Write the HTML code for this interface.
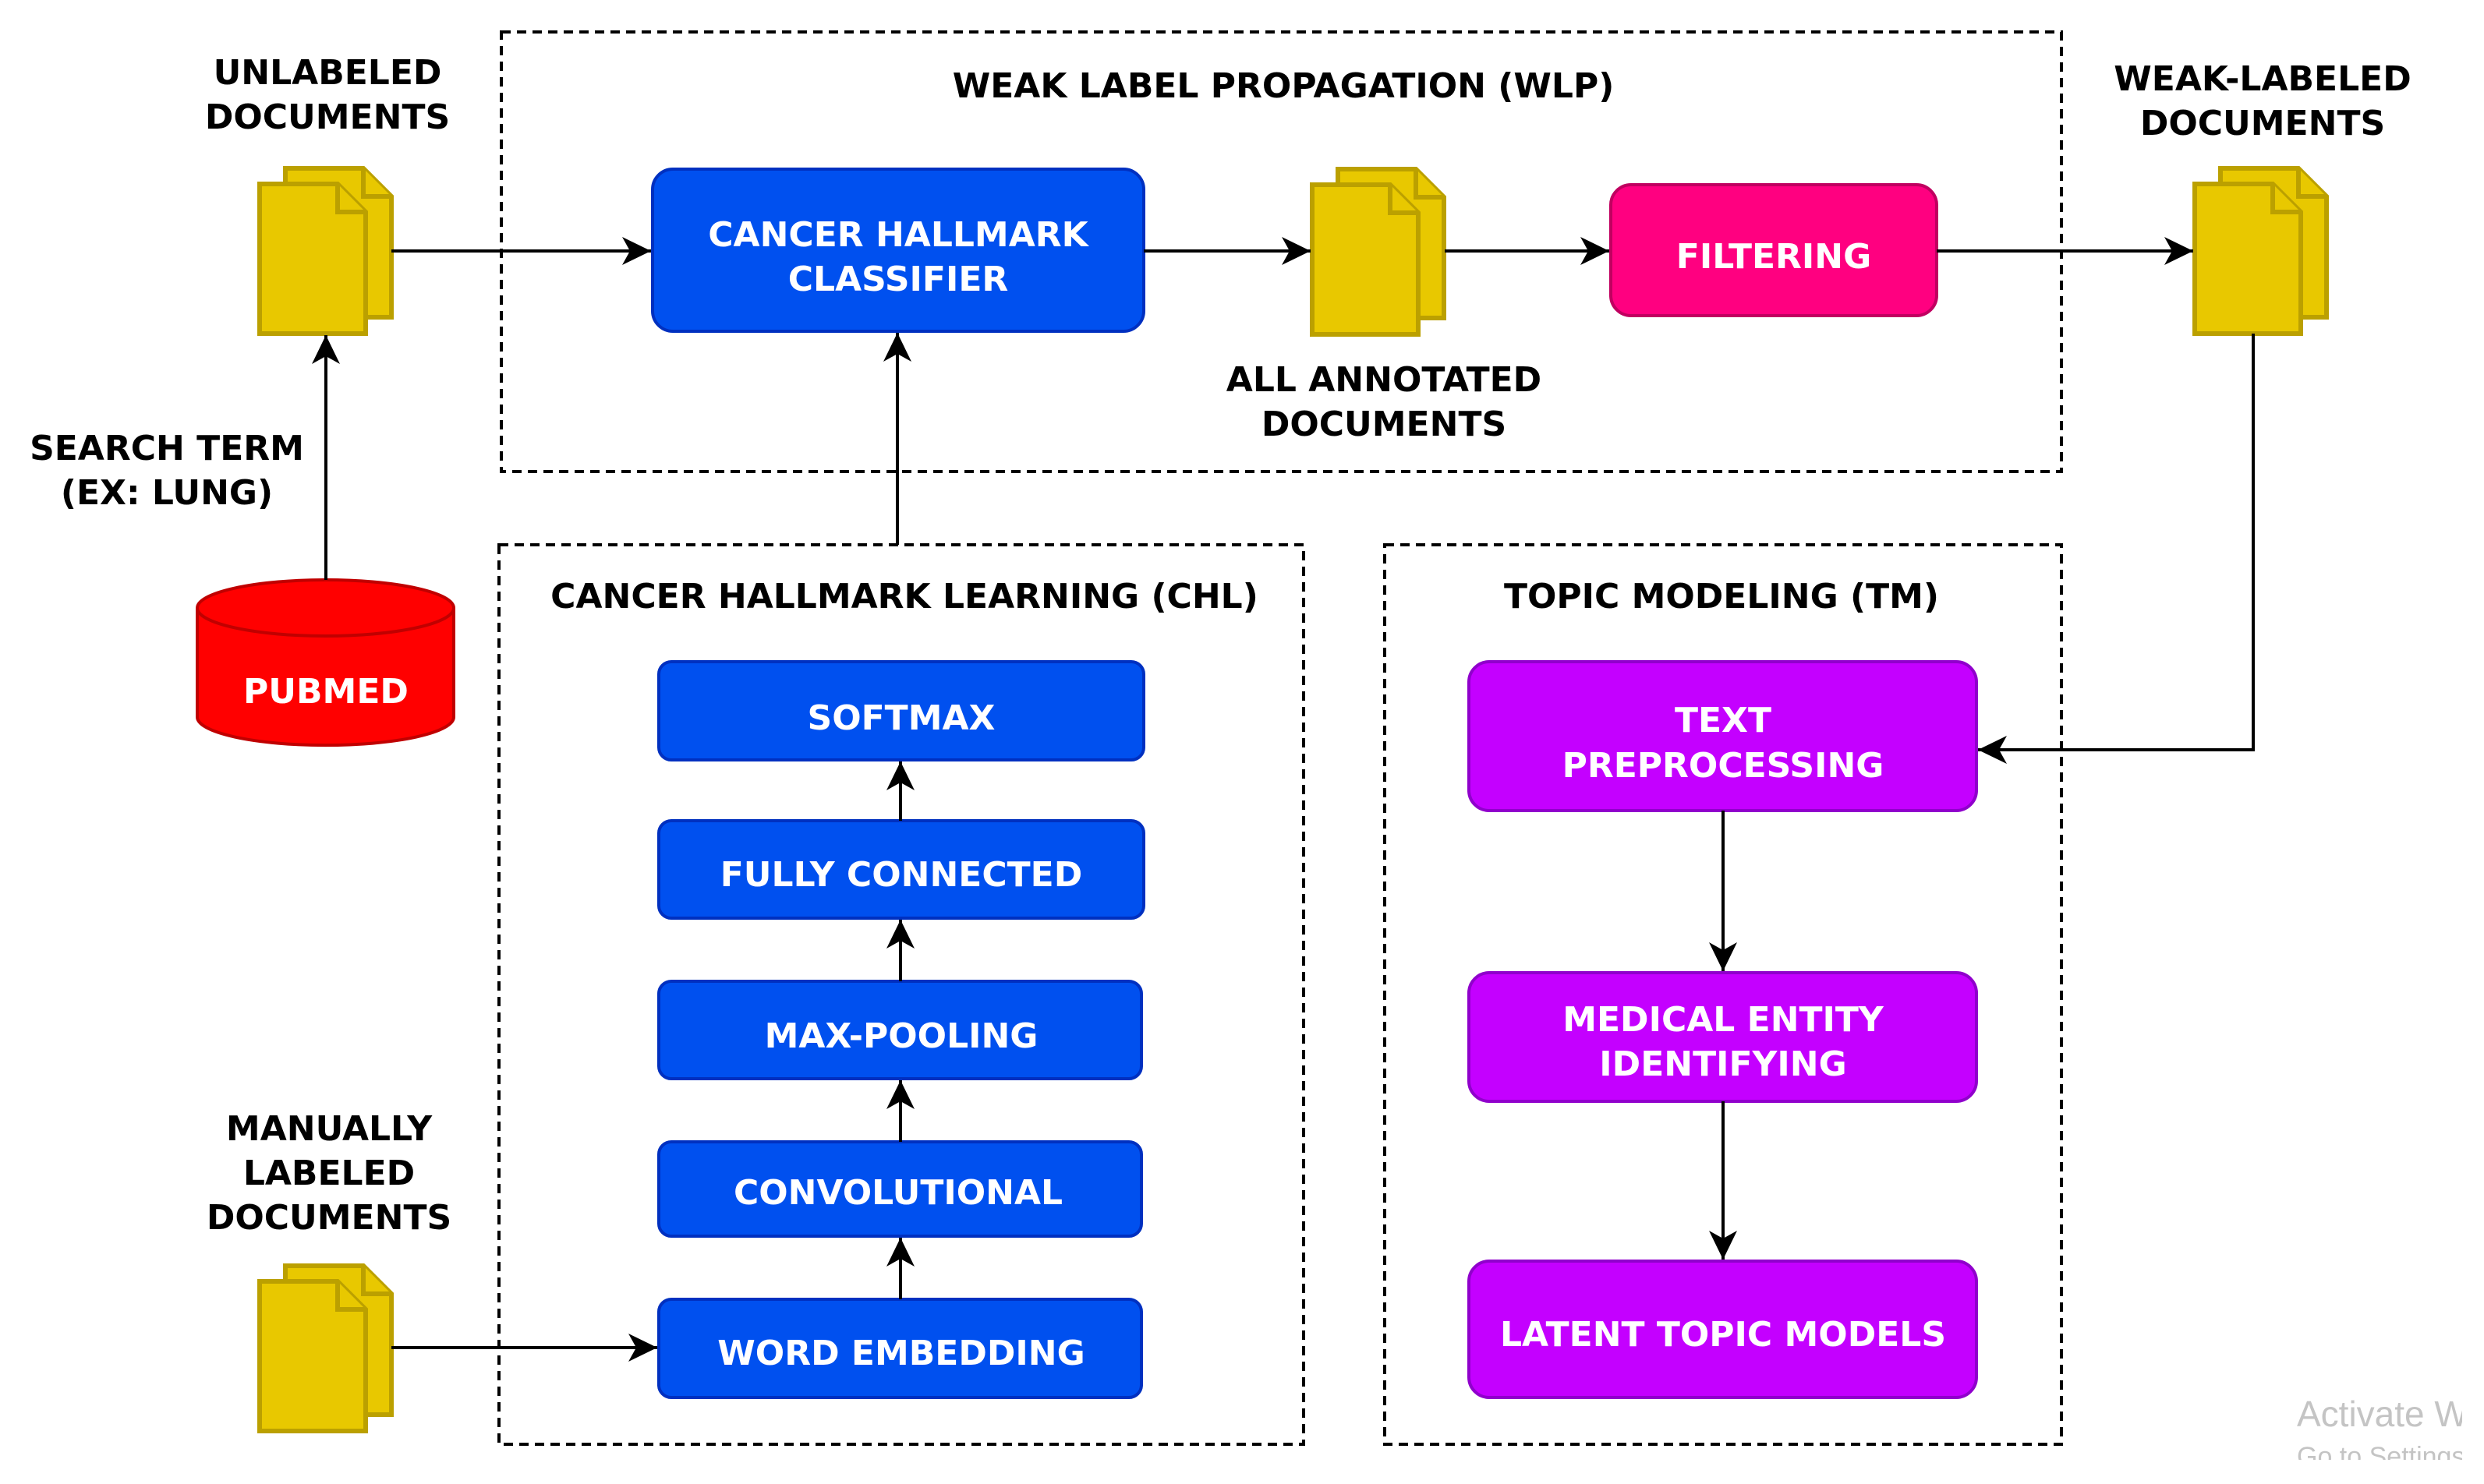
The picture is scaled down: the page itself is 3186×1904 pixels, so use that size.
<!DOCTYPE html>
<html><head><meta charset="utf-8"><style>
html,body{margin:0;padding:0;background:#fff;}
svg{display:block;}
text{font-family:"DejaVu Sans","Liberation Sans",sans-serif;font-weight:bold;font-size:44px;text-anchor:middle;}
.w{fill:#fff;}
</style></head><body>
<svg width="3186" height="1904" viewBox="0 0 3186 1904" xmlns="http://www.w3.org/2000/svg">
<defs>
<marker id="a" markerUnits="userSpaceOnUse" markerWidth="40" markerHeight="40" viewBox="0 0 40 40" refX="37" refY="20" orient="auto">
<path d="M0,2 L37,20 L0,38 L10,20 Z" fill="#000"/>
</marker>
<g id="doc">
<path d="M33,-20 h100 l36,36 v155 h-136 z" fill="#e8c800" stroke="#bba000" stroke-width="6"/>
<path d="M133,-20 v36 h36" fill="#e8c800" stroke="#bba000" stroke-width="6"/>
<path d="M0,0 h100 l36,36 v156 h-136 z" fill="#e8c800" stroke="#bba000" stroke-width="6"/>
<path d="M100,0 v36 h36" fill="#e8c800" stroke="#bba000" stroke-width="6"/>
</g>
</defs>

<g fill="none" stroke="#000" stroke-width="4" stroke-dasharray="12 8">
<rect x="643" y="41" width="2001" height="564"/>
<rect x="640" y="699" width="1032" height="1154"/>
<rect x="1776" y="699" width="868" height="1154"/>
</g>

<text x="1646" y="125">WEAK LABEL PROPAGATION (WLP)</text>
<text x="1160" y="780">CANCER HALLMARK LEARNING (CHL)</text>
<text x="2208" y="780">TOPIC MODELING (TM)</text>

<text x="420" y="108">UNLABELED</text>
<text x="420" y="165">DOCUMENTS</text>
<text x="2902" y="116">WEAK-LABELED</text>
<text x="2902" y="173">DOCUMENTS</text>
<text x="1775" y="502">ALL ANNOTATED</text>
<text x="1775" y="559">DOCUMENTS</text>
<text x="214" y="590">SEARCH TERM</text>
<text x="214" y="647">(EX: LUNG)</text>
<text x="422" y="1463">MANUALLY</text>
<text x="422" y="1520">LABELED</text>
<text x="422" y="1577">DOCUMENTS</text>

<use href="#doc" x="333" y="236"/>
<use href="#doc" x="1683" y="237"/>
<use href="#doc" x="2815" y="236"/>
<use href="#doc" x="333" y="1644"/>

<path d="M253,780 v140 a164,36 0 0 0 329,0 v-140" fill="#ff0000" stroke="#c00000" stroke-width="4"/>
<ellipse cx="417.5" cy="780" rx="164.5" ry="36" fill="#ff0000" stroke="#c00000" stroke-width="4"/>
<text class="w" x="418" y="902">PUBMED</text>

<g fill="#0050ef" stroke="#0030c0" stroke-width="4">
<rect x="837" y="217" width="630" height="208" rx="26"/>
<rect x="845" y="849" width="622" height="126" rx="16"/>
<rect x="845" y="1053" width="622" height="125" rx="16"/>
<rect x="845" y="1259" width="619" height="125" rx="16"/>
<rect x="845" y="1465" width="619" height="121" rx="16"/>
<rect x="845" y="1667" width="619" height="126" rx="16"/>
</g>
<text class="w" x="1152" y="316">CANCER HALLMARK</text>
<text class="w" x="1152" y="373">CLASSIFIER</text>
<text class="w" x="1156" y="936">SOFTMAX</text>
<text class="w" x="1156" y="1137">FULLY CONNECTED</text>
<text class="w" x="1156" y="1344">MAX-POOLING</text>
<text class="w" x="1152" y="1545">CONVOLUTIONAL</text>
<text class="w" x="1156" y="1751">WORD EMBEDDING</text>

<rect x="2066" y="237" width="418" height="168" rx="26" fill="#ff0080" stroke="#c00060" stroke-width="4"/>
<text class="w" x="2275" y="344">FILTERING</text>

<g fill="#c400ff" stroke="#9000cc" stroke-width="4">
<rect x="1884" y="849" width="651" height="191" rx="26"/>
<rect x="1884" y="1248" width="651" height="165" rx="26"/>
<rect x="1884" y="1618" width="651" height="175" rx="26"/>
</g>
<text class="w" x="2210" y="939">TEXT</text>
<text class="w" x="2210" y="997">PREPROCESSING</text>
<text class="w" x="2210" y="1323">MEDICAL ENTITY</text>
<text class="w" x="2210" y="1380">IDENTIFYING</text>
<text class="w" x="2210" y="1727">LATENT TOPIC MODELS</text>

<g fill="none" stroke="#000" stroke-width="4" marker-end="url(#a)">
<path d="M502,322 H835"/>
<path d="M1467,322 H1681"/>
<path d="M1853,322 H2064"/>
<path d="M2484,322 H2813"/>
<path d="M418,744 V430"/>
<path d="M1151,699 V427"/>
<path d="M1155,1053 V977"/>
<path d="M1155,1259 V1180"/>
<path d="M1155,1465 V1386"/>
<path d="M1155,1667 V1588"/>
<path d="M502,1729 H843"/>
<path d="M2890,428 V962 H2537"/>
<path d="M2210,1040 V1246"/>
<path d="M2210,1413 V1616"/>
</g>

<text x="2946" y="1830" style="font-family:'Liberation Sans',sans-serif;font-weight:normal;font-size:46px;fill:#c4c4c4;text-anchor:start">Activate Windows</text>
<text x="2946" y="1880" style="font-family:'Liberation Sans',sans-serif;font-weight:normal;font-size:34px;fill:#c4c4c4;text-anchor:start">Go to Settings</text>
<rect x="2900" y="1873" width="286" height="31" fill="#fff"/>
<rect x="3158" y="1780" width="28" height="124" fill="#fff"/>
</svg>
</body></html>
